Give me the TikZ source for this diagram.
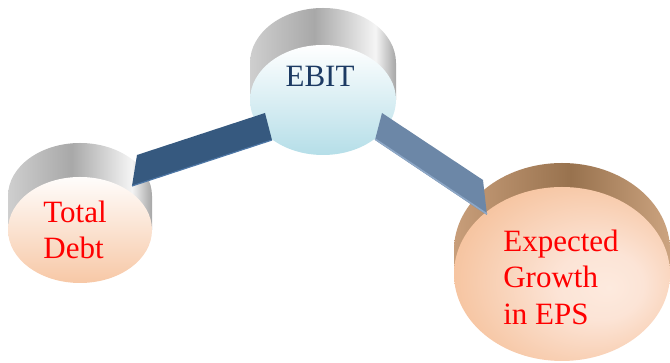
\documentclass[tikz,border=0pt]{standalone}
\usepackage{fontspec}
\setmainfont{Liberation Serif}
\newfontfamily\labelserif{Liberation Serif}
\usetikzlibrary{shapes.geometric}

\definecolor{navytext}{HTML}{1C3A63}
\definecolor{redtext}{HTML}{FF0000}
\definecolor{barleft}{HTML}{36597F}
\definecolor{barleftedge}{HTML}{4E77A6}
\definecolor{barright}{HTML}{6C87A7}
\definecolor{barrightedge}{HTML}{8DA7C6}
\definecolor{ebitbottom}{HTML}{B5DEE8}
\definecolor{debtbottom}{HTML}{F7C8A6}

% side walls of the discs, shaded across their width
\pgfdeclarehorizontalshading{greywall}{100bp}{%
  color(0bp)=(gray!38); color(25bp)=(gray!38); color(47bp)=(gray!68);
  color(68bp)=(gray!8); color(75bp)=(gray!70); color(100bp)=(gray!70)}
\pgfdeclarehorizontalshading{brownwall}{100bp}{%
  color(0bp)=(rgb,255:red,200;green,158;blue,122); color(25bp)=(rgb,255:red,200;green,158;blue,122);
  color(52bp)=(rgb,255:red,152;green,114;blue,78);
  color(75bp)=(rgb,255:red,204;green,164;blue,128); color(100bp)=(rgb,255:red,204;green,164;blue,128)}
% peach face with a light spot right of centre
\pgfdeclareradialshading{peachface}{\pgfpoint{11bp}{-4bp}}{%
  color(0bp)=(rgb,255:red,253;green,234;blue,222);
  color(10bp)=(rgb,255:red,252;green,228;blue,214);
  color(30bp)=(rgb,255:red,246;green,196;blue,160);
  color(50bp)=(rgb,255:red,244;green,186;blue,146)}

\tikzset{
  face/.style={ellipse, inner sep=0pt, draw=none},
  bigtext/.style={font=\labelserif\fontsize{31}{36.5}\selectfont, inner sep=0pt, align=left},
}

\begin{document}
\begin{tikzpicture}[x=1pt,y=1pt]
\useasboundingbox (0,0) rectangle (670,363);

% centres of the front faces
\coordinate (ebitc) at (323,263);
\coordinate (debtc) at (80,133);
\coordinate (epsc)  at (562,89);

% cylinder walls
\shade[shading=greywall]
  (250,263) -- (250,300) arc[start angle=180, end angle=0, x radius=73pt, y radius=55pt]
  -- (396,263) -- cycle;
\shade[shading=greywall]
  (8,133) -- (8,167) arc[start angle=180, end angle=0, x radius=72pt, y radius=53pt]
  -- (152,133) -- cycle;
\shade[shading=brownwall]
  (454,89) -- (454,113) arc[start angle=180, end angle=0, x radius=108pt, y radius=87pt]
  -- (670,113) -- (670,89) -- cycle;

% front faces
\node[face, minimum width=146pt, minimum height=110pt,
      top color=white, bottom color=ebitbottom] (ebit) at (ebitc) {};
\node[face, minimum width=144pt, minimum height=106pt,
      top color=white!96!debtbottom, bottom color=debtbottom] (debt) at (debtc) {};
\node[face, minimum width=216pt, minimum height=174pt,
      shading=peachface] (eps) at (epsc) {};

% labels
\node[bigtext, text=navytext, anchor=base] (ebitlabel) at (320,276) {EBIT};
\node[bigtext, text=redtext] (debtlabel) at (75,133) {Total\\Debt};
\node[bigtext, text=redtext] (epslabel) at (561,86) {Expected\\Growth\\in EPS};

% connector between Total Debt and EBIT
\coordinate (la) at (132,177);
\coordinate (lb) at (137,208);
\coordinate (lc) at (265,250);
\coordinate (ld) at (272,223);
\fill[barleft] (la) -- (lb) -- (lc) -- (ld) -- cycle;
\draw[barleftedge, line width=1.2pt] (la) -- (ld);

% connector between EBIT and Expected Growth in EPS
\coordinate (ra) at (375,223);
\coordinate (rb) at (382,250);
\coordinate (rc) at (483,183);
\coordinate (rd) at (487,148);
\fill[barright] (ra) -- (rb) -- (rc) -- (rd) -- cycle;
\draw[barrightedge, line width=1.6pt] ([yshift=1pt]ra) -- ([yshift=1pt]rd);
\end{tikzpicture}
\end{document}
